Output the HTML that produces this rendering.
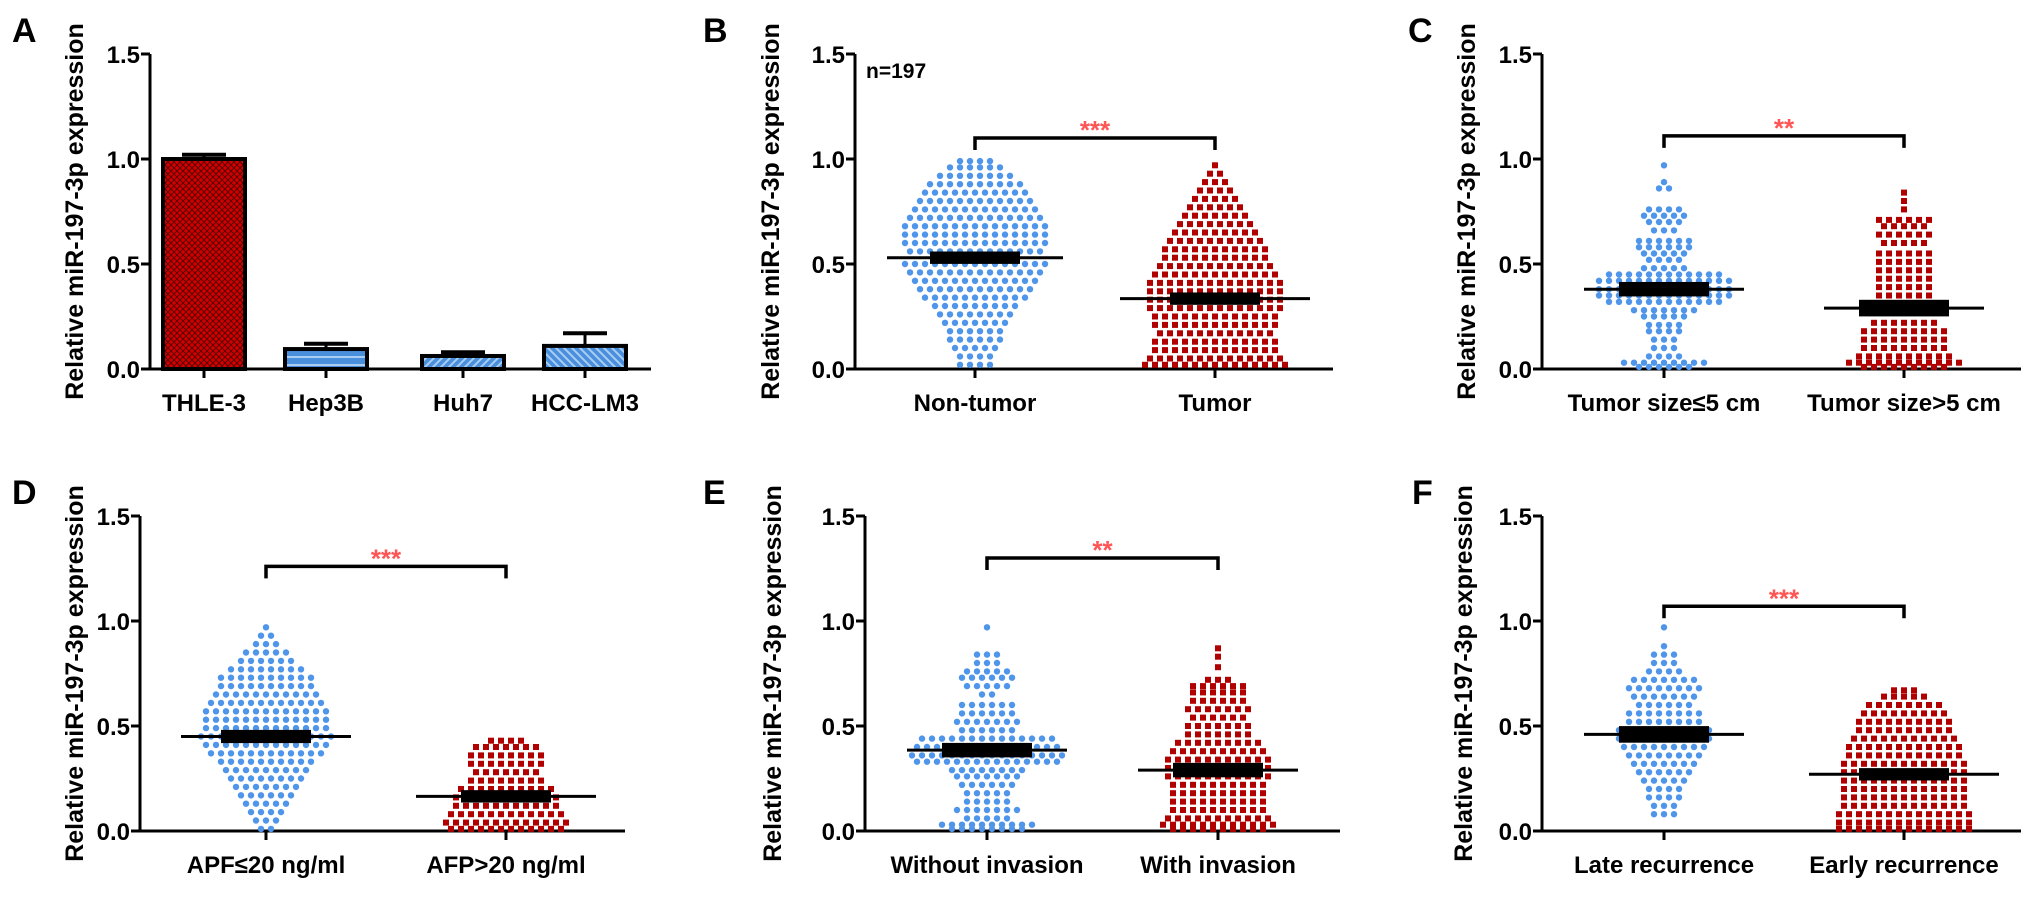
<!DOCTYPE html>
<html><head><meta charset="utf-8"><style>
html,body{margin:0;padding:0;background:#fff;}
svg{display:block;font-family:"Liberation Sans",Arial,sans-serif;}
</style></head><body>
<svg id="fig" width="2031" height="900" viewBox="0 0 2031 900" xmlns="http://www.w3.org/2000/svg">
<defs>
<pattern id="patRed" width="6" height="6" patternUnits="userSpaceOnUse"><rect width="6" height="6" fill="#d40000"/><path d="M0 0L6 6M6 0L0 6" stroke="#5a0000" stroke-width="1"/></pattern>
<pattern id="patH" width="8" height="8" patternUnits="userSpaceOnUse"><rect width="8" height="8" fill="#4a8fdc"/><path d="M0 5H8" stroke="#a9cdf3" stroke-width="2"/></pattern>
<pattern id="patD1" width="8" height="8" patternUnits="userSpaceOnUse"><rect width="8" height="8" fill="#4a8fdc"/><path d="M0 8L8 0M-2 2L2 -2M6 10L10 6" stroke="#a9cdf3" stroke-width="2"/></pattern>
<pattern id="patD2" width="8" height="8" patternUnits="userSpaceOnUse"><rect width="8" height="8" fill="#4a8fdc"/><path d="M0 0L8 8M-2 6L2 10M6 -2L10 2" stroke="#a9cdf3" stroke-width="2"/></pattern>
</defs>
</svg>
<script>
// Panel A bar data
const aCategories = ["THLE-3","Hep3B","Huh7","HCC-LM3"];
const aValues = [1.0, 0.095, 0.062, 0.11];
const aErrors = [0.02, 0.025, 0.018, 0.06];
const yTicks = [0, 0.5, 1.0, 1.5];
const yTickLabels = ["0.0","0.5","1.0","1.5"];

// Scatter data: rows of [value, count]
const bNonTumor = [[0.99,4],[0.96,6],[0.92,8],[0.88,10],[0.84,11],[0.80,12],[0.76,13],[0.72,14],[0.68,15],[0.64,15],[0.60,15],[0.56,14],[0.50,15],[0.46,14],[0.42,13],[0.38,12],[0.34,11],[0.30,9],[0.26,8],[0.22,7],[0.18,6],[0.14,6],[0.10,5],[0.06,4],[0.02,4]];
const bTumor = [[0.97,1],[0.93,2],[0.89,3],[0.85,4],[0.81,5],[0.77,6],[0.73,7],[0.69,8],[0.65,9],[0.61,10],[0.57,11],[0.53,11],[0.49,12],[0.45,13],[0.41,14],[0.37,14],[0.33,14],[0.29,14],[0.25,13],[0.21,13],[0.17,12],[0.13,13],[0.09,13],[0.05,14],[0.02,15]];
const cSmall = [[0.97,1],[0.89,1],[0.86,2],[0.76,4],[0.73,5],[0.70,4],[0.66,3],[0.61,6],[0.58,6],[0.55,5],[0.52,4],[0.48,5],[0.45,12],[0.42,14],[0.38,14],[0.35,14],[0.32,12],[0.28,7],[0.25,5],[0.21,4],[0.18,4],[0.14,3],[0.10,3],[0.06,4],[0.03,9],[0.01,6]];
const cLarge = [[0.84,1],[0.80,1],[0.76,1],[0.71,6],[0.68,5],[0.64,6],[0.60,5],[0.55,6],[0.51,6],[0.47,6],[0.43,6],[0.39,6],[0.35,6],[0.31,5],[0.27,5],[0.22,7],[0.18,9],[0.14,9],[0.10,9],[0.06,10],[0.03,12],[0.01,9]];
const dLowAfp = [[0.97,1],[0.93,2],[0.89,3],[0.85,5],[0.81,6],[0.77,8],[0.73,10],[0.69,10],[0.65,11],[0.61,12],[0.57,13],[0.53,13],[0.49,13],[0.45,14],[0.41,13],[0.37,12],[0.33,10],[0.29,9],[0.25,8],[0.21,7],[0.17,6],[0.13,5],[0.09,4],[0.05,3],[0.01,2]];
const dHighAfp = [[0.43,4],[0.40,7],[0.36,8],[0.32,8],[0.28,7],[0.24,8],[0.20,10],[0.16,11],[0.12,11],[0.08,12],[0.04,13],[0.01,12]];
const eWithout = [[0.97,1],[0.84,3],[0.80,3],[0.76,5],[0.73,6],[0.69,5],[0.65,2],[0.60,6],[0.56,6],[0.52,7],[0.48,6],[0.44,14],[0.40,15],[0.36,16],[0.33,15],[0.29,8],[0.26,7],[0.22,6],[0.18,5],[0.14,5],[0.10,7],[0.06,5],[0.03,10],[0.01,8]];
const eWith = [[0.87,1],[0.83,1],[0.78,1],[0.72,3],[0.69,6],[0.66,6],[0.62,6],[0.58,7],[0.54,6],[0.50,7],[0.46,7],[0.42,9],[0.38,10],[0.34,11],[0.30,11],[0.26,11],[0.22,10],[0.18,10],[0.14,10],[0.10,10],[0.06,11],[0.03,12],[0.01,10]];
const fLate = [[0.97,1],[0.88,1],[0.84,3],[0.80,3],[0.76,4],[0.72,7],[0.68,8],[0.64,7],[0.60,6],[0.56,8],[0.52,8],[0.48,10],[0.44,10],[0.40,9],[0.36,8],[0.32,7],[0.28,6],[0.24,5],[0.20,4],[0.16,4],[0.12,3],[0.08,3]];
const fEarly = [[0.67,3],[0.64,5],[0.60,8],[0.56,9],[0.52,10],[0.48,10],[0.44,11],[0.40,12],[0.36,12],[0.32,13],[0.28,13],[0.24,13],[0.20,13],[0.16,13],[0.12,13],[0.08,14],[0.04,14],[0.01,14]];

const meansB = [0.53, 0.335], semsB = [0.02, 0.02];
const meansC = [0.38, 0.29], semsC = [0.025, 0.03];
const meansD = [0.45, 0.165], semsD = [0.022, 0.02];
const meansE = [0.385, 0.29], semsE = [0.025, 0.025];
const meansF = [0.46, 0.27], semsF = [0.03, 0.02];
const bracketVals = {B:1.10, C:1.11, D:1.26, E:1.30, F:1.07};
const catsB = ["Non-tumor","Tumor"], catsC = ["Tumor size\u22645 cm","Tumor size>5 cm"];
const catsD = ["APF\u226420 ng/ml","AFP>20 ng/ml"], catsE = ["Without invasion","With invasion"];
const catsF = ["Late recurrence","Early recurrence"];

const svg = document.getElementById('fig');
const NS = 'http://www.w3.org/2000/svg';
function mk(tag, attrs, parent){const e=document.createElementNS(NS,tag);for(const k in attrs)e.setAttribute(k,attrs[k]);(parent||svg).appendChild(e);return e;}

function axes(p){
  const g = mk('g',{});
  
  
  const y = v => p.y0 - v*210;
  p.y = y;
  const lt = mk('text',{x:p.lx,y:p.ly,'font-size':34,'font-weight':'bold',fill:'#000'},g);
  lt.textContent = p.letter;
  
  
  const ya = mk('line',{x1:p.ax,x2:p.ax,y1:y(0),y2:y(1.5),stroke:'#000','stroke-width':3},g);
  
  
  yTicks.forEach((t,i)=>{
    mk('line',{x1:p.ax-9,x2:p.ax,y1:y(t),y2:y(t),stroke:'#000','stroke-width':3},g);
    const tl = mk('text',{x:p.ax-10,y:y(t)+9,'font-size':24,'font-weight':'bold','text-anchor':'end'},g);
    tl.textContent = yTickLabels[i];
    
    
  });
  const xa = mk('line',{x1:p.ax-1,x2:p.xend,y1:y(0),y2:y(0),stroke:'#000','stroke-width':3},g);
  
  
  const tt = mk('text',{x:0,y:0,'font-size':25,'font-weight':'bold','text-anchor':'middle',transform:'translate('+(p.tx+9)+','+y(0.75)+') rotate(-90)'},g);
  tt.textContent = 'Relative miR-197-3p expression';
  
  
  p.cx.forEach((c,i)=>{
    mk('line',{x1:c,x2:c,y1:y(0),y2:y(0)+9,stroke:'#000','stroke-width':3},g);
    const cl = mk('text',{x:c,y:y(0)+42,'font-size':24,'font-weight':'bold','text-anchor':'middle'},g);
    cl.textContent = p.cats[i];
    
    
  });
  return g;
}

// Panel A
(function(){
  const p = {letter:'A',lx:12,ly:42,ax:150,y0:369,xend:651,tx:74,cx:[204,326,463,585],cats:aCategories};
  const g = axes(p);
  const fills=['url(#patRed)','url(#patH)','url(#patD1)','url(#patD2)'];
  aValues.forEach((v,i)=>{
    const c=p.cx[i];
    mk('line',{x1:c,x2:c,y1:p.y(v),y2:p.y(v+aErrors[i]),stroke:'#000','stroke-width':3},g);
    const e2 = mk('line',{x1:c-22,x2:c+22,y1:p.y(v+aErrors[i]),y2:p.y(v+aErrors[i]),stroke:'#000','stroke-width':4},g);
    
    
    const r = mk('rect',{x:c-41,y:p.y(v),width:82,height:p.y(0)-p.y(v),fill:fills[i],stroke:'#000','stroke-width':4},g);
    
    
  });
})();

function dots(g,p,rows,cx,color,shape){
  rows.forEach(([v,n])=>{
    const yy=p.y(v);
    for(let k=0;k<n;k++){
      const off=(k-(n-1)/2)*10;
      let d;
      if(shape==='circle') d=mk('circle',{cx:cx+off,cy:yy,r:3.2,fill:color},g);
      else d=mk('rect',{x:cx+off-3,y:yy-3,width:6,height:6,fill:color},g);
      
      
    }
  });
}
function meanSem(g,p,cx,m,s,half){
  const l = mk('line',{x1:cx-half,x2:cx+half,y1:p.y(m),y2:p.y(m),stroke:'#000','stroke-width':3},g);
  
  
  const r = mk('rect',{x:cx-45,y:p.y(m+s)-2,width:90,height:p.y(m-s)-p.y(m+s)+4,fill:'#000'},g);
  
  
}
function bracket(g,p,v,stars){
  const yy=p.y(v), x1=p.cx[0], x2=p.cx[1];
  const b = mk('path',{d:'M'+x1+' '+(yy+12)+'V'+yy+'H'+x2+'V'+(yy+12),fill:'none',stroke:'#000','stroke-width':3.5},g);
  
  
  const t = mk('text',{x:(x1+x2)/2,y:yy+1,'font-size':26,'font-weight':'bold',fill:'#ff5555','text-anchor':'middle'},g);
  t.textContent = stars;
  
  
}
function scatterPanel(p,g1,g2,means,sems,stars,halves){
  const g=axes(p);
  dots(g,p,g1,p.cx[0],'#4f95ea','circle');
  dots(g,p,g2,p.cx[1],'#b00000','square');
  meanSem(g,p,p.cx[0],means[0],sems[0],halves[0]);
  meanSem(g,p,p.cx[1],means[1],sems[1],halves[1]);
  bracket(g,p,bracketVals[p.letter],stars);
  return g;
}
const gB = scatterPanel({letter:'B',lx:703,ly:42,ax:855,y0:369,xend:1333,tx:770,cx:[975,1215],cats:catsB},bNonTumor,bTumor,meansB,semsB,'***',[88,95]);
const nt = mk('text',{x:866,y:78,'font-size':21,'font-weight':'bold'},gB);
nt.textContent='n=197';


scatterPanel({letter:'C',lx:1408,ly:42,ax:1542,y0:369,xend:2021,tx:1466,cx:[1664,1904],cats:catsC},cSmall,cLarge,meansC,semsC,'**',[80,80]);
scatterPanel({letter:'D',lx:12,ly:504,ax:140,y0:831,xend:625,tx:74,cx:[266,506],cats:catsD},dLowAfp,dHighAfp,meansD,semsD,'***',[85,90]);
scatterPanel({letter:'E',lx:703,ly:504,ax:865,y0:831,xend:1340,tx:772,cx:[987,1218],cats:catsE},eWithout,eWith,meansE,semsE,'**',[80,80]);
scatterPanel({letter:'F',lx:1412,ly:504,ax:1542,y0:831,xend:2021,tx:1463,cx:[1664,1904],cats:catsF},fLate,fEarly,meansF,semsF,'***',[80,95]);
</script>
</body></html>
